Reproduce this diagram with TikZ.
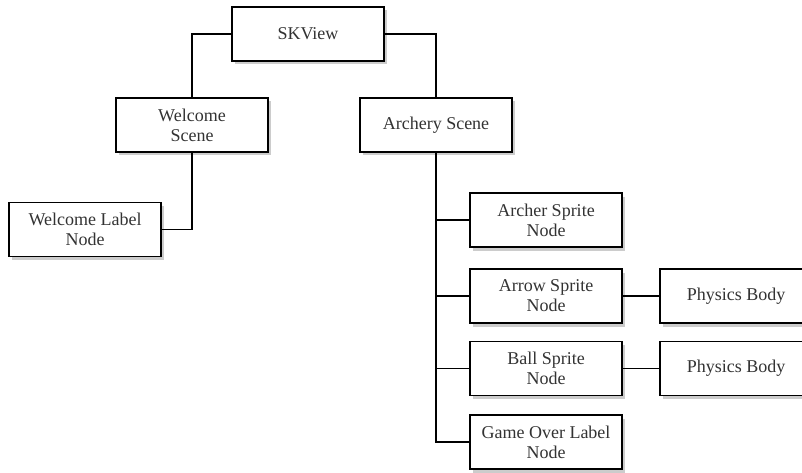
\documentclass[tikz,border=0pt]{standalone}
\usepackage{fontspec}
\setmainfont{Liberation Serif}
\usetikzlibrary{shadows}

\begin{document}
\begin{tikzpicture}[x=1pt,y=-1pt,
  box/.style={draw,line width=1.6pt,fill=white,minimum width=152pt,minimum height=54pt,align=center,
    font=\fontsize{18}{20}\selectfont,text=black!80,
    drop shadow={shadow xshift=3pt,shadow yshift=-3.5pt,opacity=0.4}},
  link/.style={line width=1.3pt}]
\useasboundingbox (0,0) rectangle (802,473);
\node[box] (skview) at (308,34) {SKView};
\node[box] (welcome) at (192,125) {Welcome\\Scene};
\node[box] (wlabel) at (85,229.5) {Welcome Label\\Node};
\node[box] (archery) at (436,125) {Archery Scene};
\node[box] (archer) at (546,220) {Archer Sprite\\Node};
\node[box] (arrowsp) at (546,296) {Arrow Sprite\\Node};
\node[box] (ball) at (546,368.5) {Ball Sprite\\Node};
\node[box] (gameover) at (546,442) {Game Over Label\\Node};
\node[box] (arrowbody) at (736,296) {Physics Body};
\node[box] (ballbody) at (736,368.5) {Physics Body};

\draw[link] (skview.west) -| (welcome.north);
\draw[link] (skview.east) -| (archery.north);
\draw[link] (welcome.south) |- (wlabel.east);
\draw[link] (archery.south) |- (gameover.west);
\draw[link] (archery.south |- archer.west) -- (archer.west);
\draw[link] (archery.south |- arrowsp.west) -- (arrowsp.west);
\draw[link] (archery.south |- ball.west) -- (ball.west);
\draw[link] (arrowsp.east) -- (arrowbody.west);
\draw[link] (ball.east) -- (ballbody.west);
\end{tikzpicture}
\end{document}
